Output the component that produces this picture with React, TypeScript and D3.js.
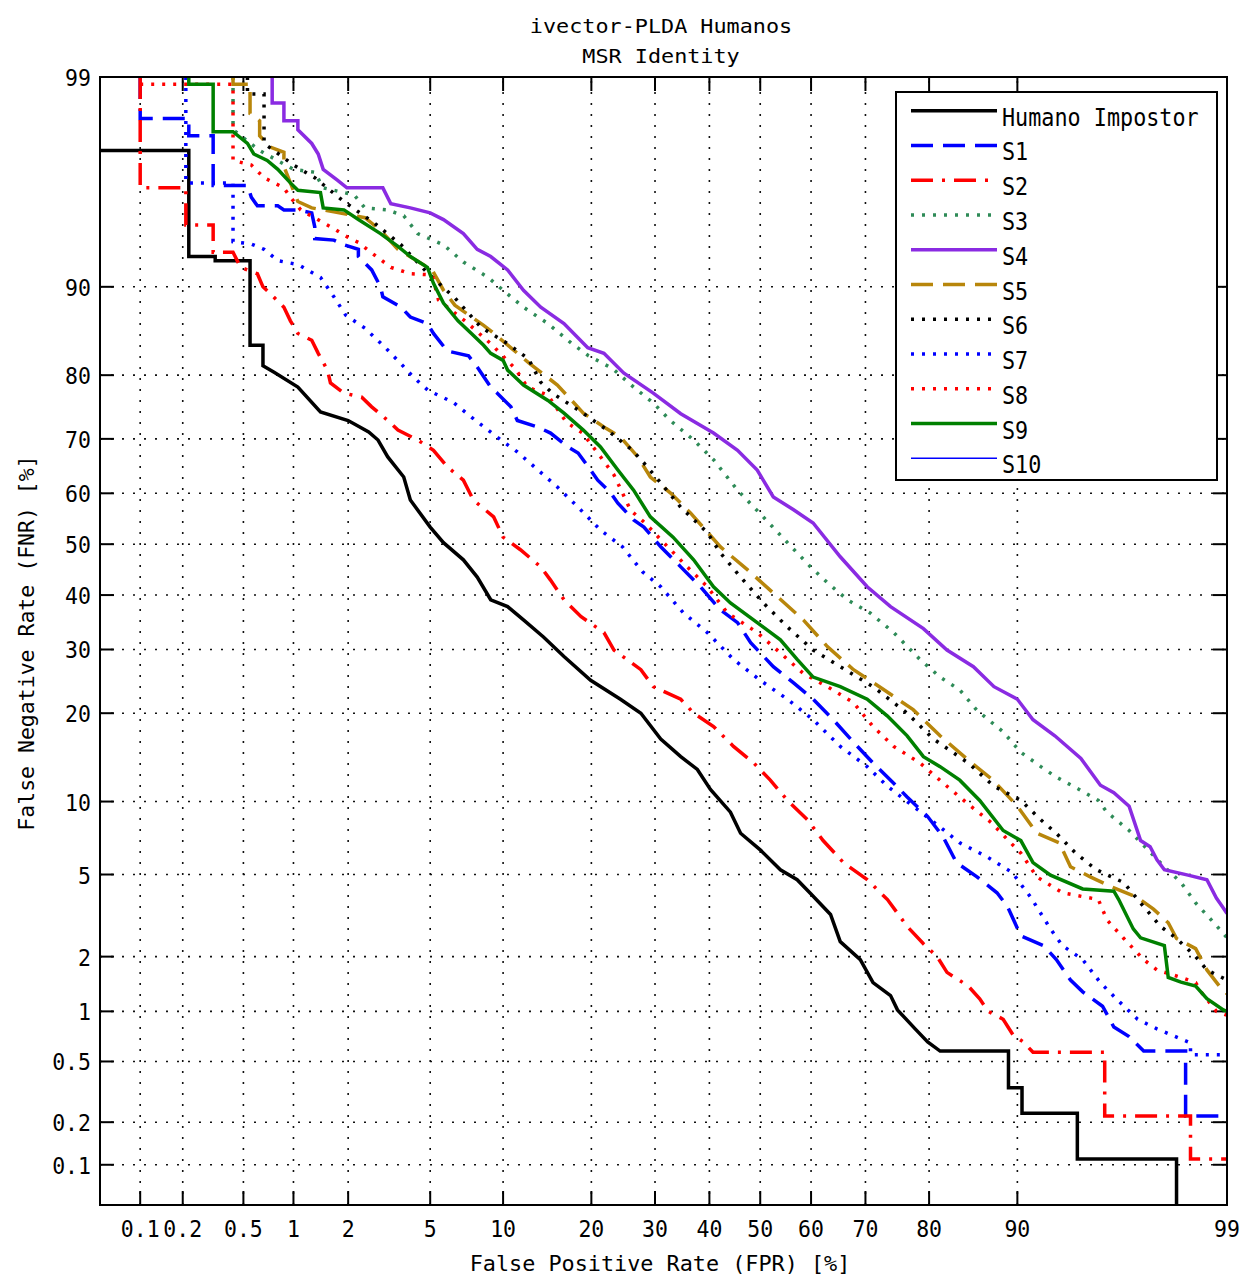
import React from 'react';
import * as d3 from 'd3';

type Pt = [number, number];

const xTicks = [0.1, 0.2, 0.5, 1, 2, 5, 10, 20, 30, 40, 50, 60, 70, 80, 90, 99];
const xTickLabels = ['0.1', '0.2', '0.5', '1', '2', '5', '10', '20', '30', '40', '50', '60', '70', '80', '90', '99'];
const yTicks = [0.1, 0.2, 0.5, 1, 2, 5, 10, 20, 30, 40, 50, 60, 70, 80, 90, 99];
const yTickLabels = ['0.1', '0.2', '0.5', '1', '2', '5', '10', '20', '30', '40', '50', '60', '70', '80', '90', '99'];
const axisMin = 0.05;
const axisMax = 99;

const titleLines = ['ivector-PLDA Humanos', 'MSR Identity'];
const xLabel = 'False Positive Rate (FPR) [%]';
const yLabel = 'False Negative Rate (FNR) [%]';

const seriesNames = ['Humano Impostor', 'S1', 'S2', 'S3', 'S4', 'S5', 'S6', 'S7', 'S8', 'S9', 'S10'];

const humano: Pt[] = [[0.05,97.5],[0.22,97.5],[0.22,92.4],[0.33,92.4],[0.33,92.1],[0.55,92.1],[0.55,83.9],[0.66,83.9],[0.66,81.3],[0.77,80.4],[1.06,78.3],[1.42,74.5],[2.0,73.1],[2.55,71.2],[2.84,69.8],[3.17,66.8],[3.78,63.1],[4.06,58.7],[5.0,53.4],[5.72,50.3],[6.95,46.9],[7.92,43.5],[8.96,39.1],[10.4,37.8],[11.9,35.3],[14.0,32.2],[16.4,28.8],[19.9,24.9],[24.3,22.0],[27.6,20.0],[31.0,16.6],[34.6,14.5],[37.7,13.1],[40.2,11.1],[44.1,9.1],[46.1,7.5],[50.0,6.4],[54.0,5.25],[57.3,4.74],[59.9,4.1],[63.7,3.26],[65.5,2.39],[69.1,1.93],[71.3,1.45],[74.2,1.23],[75.3,1.02],[78.0,0.79],[79.8,0.66],[81.5,0.58],[89.2,0.58],[89.2,0.34],[90.4,0.34],[90.4,0.23],[94.3,0.23],[94.3,0.11],[98.1,0.11],[98.1,0.05]];

const s1: Pt[] = [[0.1,99],[0.1,98.3],[0.22,98.3],[0.22,97.9],[0.32,97.9],[0.32,96.3],[0.53,96.3],[0.56,95.8],[0.61,95.4],[0.81,95.4],[0.88,95.2],[1.06,95.2],[1.27,95.05],[1.32,94.3],[1.32,93.6],[1.68,93.5],[1.9,93.2],[2.26,92.9],[2.26,92.4],[2.64,91.4],[2.92,90.0],[3.0,89.1],[3.67,88.1],[4.06,87.1],[4.86,86.4],[5.17,85.3],[5.94,83.2],[7.3,82.6],[7.92,81.1],[8.96,78.3],[9.5,77.4],[10.7,75.3],[11.3,73.1],[13.4,72.0],[14.8,71.0],[16.9,68.6],[18.2,67.5],[19.9,64.4],[20.9,62.5],[22.8,60.1],[23.9,58.1],[26.4,54.8],[28.1,53.4],[31.0,49.5],[34.6,45.5],[38.3,41.6],[42.1,37.2],[45.5,34.8],[48.1,31.2],[52.6,27.1],[56.6,24.5],[60.4,22.0],[64.2,19.1],[67.9,16.2],[71.3,13.8],[74.7,11.7],[76.8,10.4],[79.8,8.75],[81.9,7.25],[83.6,5.64],[86.0,4.88],[88.1,4.13],[89.1,3.57],[90.3,2.56],[92.1,2.28],[93.0,1.93],[93.9,1.5],[94.6,1.29],[95.6,1.07],[96.1,0.81],[96.7,0.71],[97.2,0.58],[98.3,0.58],[98.3,0.22],[99,0.22]];

const s2: Pt[] = [[0.1,99],[0.1,96.2],[0.21,96.2],[0.21,94.4],[0.32,94.4],[0.32,92.7],[0.43,92.7],[0.48,91.6],[0.61,91.1],[0.66,90.0],[0.73,89.4],[0.88,88.1],[0.96,86.7],[1.06,85.3],[1.27,84.5],[1.38,82.9],[1.55,80.7],[1.61,78.9],[1.9,77.4],[2.35,76.8],[2.64,75.3],[3.17,73.1],[3.55,71.5],[4.39,69.8],[5.17,68.0],[5.94,65.0],[6.95,62.5],[7.64,58.7],[9.2,55.4],[10.0,51.4],[11.6,48.9],[13.7,45.5],[14.8,42.9],[16.4,39.1],[18.6,35.9],[21.8,33.0],[23.3,29.9],[27.6,26.6],[29.7,23.9],[34.6,22.0],[37.0,20.0],[40.8,18.2],[44.7,15.7],[48.7,13.8],[52.0,12.0],[55.4,10.1],[59.3,8.5],[62.3,7.0],[66.1,5.64],[70.3,4.74],[73.7,3.84],[76.8,2.85],[79.2,2.33],[81.1,2.0],[82.4,1.65],[85.0,1.39],[86.3,1.18],[87.2,1.0],[88.7,0.9],[89.6,0.73],[90.5,0.66],[91.3,0.57],[95.7,0.57],[95.7,0.22],[98.4,0.22],[98.4,0.11],[99,0.11]];

const s3: Pt[] = [[0.43,99],[0.43,98.05],[0.63,97.5],[1.0,96.9],[1.32,96.8],[1.47,96.2],[2.15,95.9],[2.44,95.3],[3.17,95.2],[3.78,94.9],[4.39,93.9],[5.72,93.2],[6.95,92.0],[8.75,90.8],[10.0,89.7],[11.9,88.1],[14.5,86.4],[17.4,84.1],[19.6,82.6],[23.1,80.9],[26.4,78.3],[29.7,75.9],[32.7,73.1],[37.0,69.8],[40.8,66.3],[45.5,60.6],[50.6,55.4],[55.4,50.3],[59.9,45.5],[63.1,42.4],[66.8,39.1],[70.8,36.6],[74.7,33.0],[78.7,28.3],[81.5,25.4],[84.0,23.4],[86.0,20.4],[88.7,17.5],[90.3,15.0],[91.9,13.4],[93.0,12.3],[94.4,11.1],[95.4,10.1],[95.8,9.1],[96.7,7.7],[97.8,5.41],[98.2,4.6],[98.5,3.7],[98.8,3.0],[99,2.5]];

const s4: Pt[] = [[0.75,99],[0.75,98.6],[0.88,98.6],[0.88,98.25],[1.06,98.25],[1.06,98.05],[1.27,97.7],[1.38,97.4],[1.47,96.9],[1.76,96.5],[1.97,96.2],[3.0,96.2],[3.28,95.5],[4.06,95.3],[5.0,95.05],[5.72,94.7],[6.95,93.9],[7.92,92.9],[8.96,92.4],[10.4,91.4],[11.9,89.7],[13.7,88.1],[16.4,86.4],[19.5,83.6],[21.8,82.9],[24.8,80.3],[29.7,77.4],[34.6,74.2],[40.8,71.0],[45.5,68.0],[49.4,64.4],[52.6,59.3],[56.6,56.8],[60.4,54.2],[65.5,47.5],[70.3,41.6],[74.2,37.8],[79.2,33.7],[82.4,29.9],[85.6,27.1],[87.8,23.9],[90.0,22.0],[91.3,19.1],[92.9,17.0],[94.5,14.3],[95.5,11.5],[96.1,10.8],[96.7,9.6],[97.1,7.0],[97.4,6.6],[97.6,5.8],[97.8,5.25],[98.35,4.97],[98.7,4.74],[98.85,3.9],[98.95,3.5],[99,3.3]];

const s5: Pt[] = [[0.43,99],[0.43,98.9],[0.55,98.9],[0.55,98.4],[0.63,98.25],[0.63,97.9],[0.73,97.6],[0.88,97.45],[0.88,97.0],[1.06,95.6],[1.27,95.3],[1.68,95.1],[2.44,94.8],[2.92,94.1],[3.55,92.9],[5.1,91.4],[5.72,89.7],[6.4,88.3],[8.4,86.2],[8.96,85.6],[12.5,81.6],[15.6,78.6],[18.9,74.3],[22.1,71.8],[24.3,70.3],[27.1,66.8],[29.2,63.1],[32.7,60.1],[36.4,56.2],[42.1,49.5],[47.5,44.9],[52.6,40.4],[58.5,35.3],[63.1,30.5],[67.9,26.6],[73.0,23.5],[77.7,20.5],[81.5,17.0],[84.9,14.2],[87.7,12.0],[90.0,9.6],[91.6,7.5],[93.2,6.85],[93.9,5.41],[95.0,4.88],[96.0,4.4],[97.0,3.92],[97.5,3.46],[97.9,2.97],[98.1,2.48],[98.5,2.2],[98.7,1.7],[98.9,1.38],[99,1.26]];

const s6: Pt[] = [[0.53,99],[0.53,98.75],[0.67,98.75],[0.67,97.7],[0.77,97.5],[1.0,97.05],[1.32,96.6],[1.9,95.6],[2.73,94.5],[3.67,93.2],[4.9,91.1],[6.4,89.0],[8.2,86.0],[10.4,84.1],[12.4,82.2],[13.7,79.0],[15.0,77.4],[18.6,74.5],[22.3,71.5],[26.2,68.0],[28.1,65.7],[31.0,62.0],[34.6,57.3],[39.6,52.3],[42.1,48.3],[46.1,43.5],[50.6,38.5],[55.4,34.0],[60.4,29.9],[65.5,27.1],[71.3,23.9],[76.8,20.0],[80.6,16.6],[85.0,13.8],[87.8,11.4],[90.3,10.1],[91.9,8.5],[93.0,7.5],[94.2,6.2],[95.3,5.25],[96.5,4.6],[97.1,3.7],[97.7,2.85],[98.1,2.48],[98.5,2.0],[98.7,1.7],[99,1.5]];

const s7: Pt[] = [[0.21,99],[0.21,96.4],[0.43,96.4],[0.43,93.4],[0.56,93.25],[0.67,92.9],[0.81,92.1],[1.07,91.8],[1.42,90.8],[1.68,89.1],[1.94,87.3],[2.44,85.9],[3.09,83.6],[3.74,81.3],[4.2,79.7],[4.9,77.8],[6.3,76.0],[7.8,73.1],[9.5,70.3],[11.3,67.7],[13.4,64.4],[15.6,61.2],[18.2,57.3],[21.3,52.8],[24.6,49.5],[27.9,44.5],[31.0,41.6],[35.1,36.6],[39.6,33.0],[44.7,28.3],[50.0,24.9],[55.4,22.0],[60.4,19.1],[65.5,15.7],[70.3,13.4],[73.7,11.4],[77.7,9.6],[81.5,7.95],[84.0,6.85],[87.1,5.97],[89.6,5.08],[90.0,4.74],[91.1,3.95],[92.6,2.77],[93.4,2.28],[94.6,1.93],[95.5,1.45],[96.2,1.18],[97.0,0.9],[97.6,0.79],[98.4,0.65],[98.4,0.55],[99,0.55]];

const s8: Pt[] = [[0.1,98.9],[0.43,98.9],[0.43,97.2],[0.56,97.05],[0.67,96.6],[0.88,96.2],[0.96,95.8],[1.1,95.2],[1.61,94.3],[1.98,93.7],[2.26,93.35],[2.73,92.5],[3.28,91.6],[4.06,91.1],[5.1,91.0],[5.44,88.8],[7.2,86.5],[8.96,84.1],[11.1,80.9],[12.3,78.3],[14.5,77.1],[16.7,72.8],[18.8,71.0],[20.9,67.5],[23.3,63.5],[25.9,56.7],[28.3,54.2],[31.0,50.9],[35.8,45.5],[39.6,41.6],[43.5,36.6],[49.4,33.0],[54.0,29.4],[58.5,26.0],[63.1,23.9],[67.9,21.5],[71.3,18.2],[74.7,15.7],[78.7,13.8],[82.4,11.4],[85.3,9.6],[87.5,8.3],[89.4,6.85],[90.3,6.2],[91.6,4.88],[93.4,4.13],[95.4,3.84],[95.8,3.07],[96.5,2.48],[97.2,1.93],[97.6,1.7],[98.2,1.55],[98.5,1.45],[98.6,1.29],[98.85,1.0],[99,0.95]];

const s9: Pt[] = [[0.22,99],[0.22,98.9],[0.32,98.9],[0.32,98.0],[0.43,98.0],[0.53,97.7],[0.58,97.4],[0.7,97.2],[0.81,96.9],[0.96,96.4],[1.06,96.1],[1.42,96.0],[1.47,95.3],[1.9,95.2],[2.26,94.7],[2.92,93.9],[3.55,93.1],[4.06,92.4],[4.86,91.6],[5.17,90.3],[5.72,88.5],[6.6,86.7],[7.5,85.3],[8.4,83.9],[8.96,82.9],[10.0,82.0],[10.4,80.7],[11.9,78.6],[14.5,76.3],[16.4,74.3],[18.9,71.5],[21.3,68.6],[23.9,64.4],[26.4,60.6],[29.2,55.4],[33.2,51.4],[37.0,46.9],[40.8,41.6],[44.1,38.5],[49.4,34.8],[54.0,31.7],[57.3,28.3],[60.4,25.4],[65.5,23.9],[70.3,22.0],[73.7,19.6],[76.8,17.0],[79.2,14.5],[81.5,13.4],[84.0,12.0],[86.3,10.1],[88.7,7.7],[90.3,7.0],[91.3,5.64],[92.6,4.97],[94.6,4.3],[96.1,4.2],[96.3,3.84],[96.85,2.77],[97.1,2.5],[97.8,2.28],[97.9,1.55],[98.2,1.46],[98.5,1.39],[98.7,1.18],[98.95,1.02],[99,1.0]];

const s10: Pt[] = [];

const seriesData: Pt[][] = [humano, s1, s2, s3, s4, s5, s6, s7, s8, s9, s10];
const seriesColors = ['#000000', '#0000ff', '#ff0000', '#2e8b57', '#8a2be2', '#b8860b', '#000000', '#0000ff', '#ff0000', '#008000', '#0000ff'];
const seriesDash = ['', '22 10', '22 9 3 9', '3 8', '', '22 10', '3 8', '3 8', '3 8', '', ''];
const seriesWidth = [3.5, 3.5, 3.5, 3.5, 3.5, 3.5, 3.5, 3.5, 3.5, 3.5, 1.5];

// inverse standard normal CDF (Acklam)
function probit(p: number): number {
  const a = [-3.969683028665376e1, 2.209460984245205e2, -2.759285104469687e2, 1.38357751867269e2, -3.066479806614716e1, 2.506628277459239];
  const b = [-5.447609879822406e1, 1.615858368580409e2, -1.556989798598866e2, 6.680131188771972e1, -1.328068155288572e1];
  const c = [-7.784894002430293e-3, -3.223964580411365e-1, -2.400758277161838, -2.549732539343734, 4.374664141464968, 2.938163982698783];
  const d = [7.784695709041462e-3, 3.224671290700398e-1, 2.445134137142996, 3.754408661907416];
  const pl = 0.02425;
  if (p < pl) {
    const q = Math.sqrt(-2 * Math.log(p));
    return (((((c[0] * q + c[1]) * q + c[2]) * q + c[3]) * q + c[4]) * q + c[5]) / ((((d[0] * q + d[1]) * q + d[2]) * q + d[3]) * q + 1);
  }
  if (p <= 1 - pl) {
    const q = p - 0.5;
    const r = q * q;
    return ((((((a[0] * r + a[1]) * r + a[2]) * r + a[3]) * r + a[4]) * r + a[5]) * q) / (((((b[0] * r + b[1]) * r + b[2]) * r + b[3]) * r + b[4]) * r + 1);
  }
  const q = Math.sqrt(-2 * Math.log(1 - p));
  return -(((((c[0] * q + c[1]) * q + c[2]) * q + c[3]) * q + c[4]) * q + c[5]) / ((((d[0] * q + d[1]) * q + d[2]) * q + d[3]) * q + 1);
}

const W = 1241;
const H = 1278;
const L = 100, R = 1227, T = 77, B = 1205;
const FONT = '"DejaVu Sans Mono", "Liberation Mono", monospace';

export default function App() {
  const xs = d3.scaleLinear().domain([probit(axisMin / 100), probit(axisMax / 100)]).range([L, R]);
  const ys = d3.scaleLinear().domain([probit(axisMin / 100), probit(axisMax / 100)]).range([B, T]);
  const X = (v: number) => xs(probit(v / 100));
  const Y = (v: number) => ys(probit(v / 100));
  const line = d3.line<Pt>().x(d => X(d[0])).y(d => Y(d[1]));

  const legX = 896, legY = 92, legW = 321, legH = 388;
  const rowY = (i: number) => 110.7 + i * 34.76;

  return (
    <svg width={W} height={H} style={{ position: 'absolute', left: 0, top: 0, background: '#fff' }} fontFamily={FONT}>
      <rect x={0} y={0} width={W} height={H} fill="#fff" />
      <defs>
        <clipPath id="plotclip">
          <rect x={L} y={T} width={R - L} height={B - T} />
        </clipPath>
      </defs>
      {/* grid */}
      <g stroke="#111" strokeWidth={1.6} strokeDasharray="2 9">
        {xTicks.filter(t => t < axisMax).map((t, i) => (
          <line key={'gx' + i} x1={X(t)} x2={X(t)} y1={B} y2={T} />
        ))}
        {yTicks.filter(t => t < axisMax).map((t, i) => (
          <line key={'gy' + i} x1={L} x2={R} y1={Y(t)} y2={Y(t)} />
        ))}
      </g>
      {/* ticks */}
      <g stroke="#000" strokeWidth={2}>
        {xTicks.map((t, i) => (
          <g key={'tx' + i}>
            <line x1={X(t)} x2={X(t)} y1={B} y2={B - 14} />
            <line x1={X(t)} x2={X(t)} y1={T} y2={T + 14} />
          </g>
        ))}
        {yTicks.map((t, i) => (
          <g key={'ty' + i}>
            <line x1={L} x2={L + 14} y1={Y(t)} y2={Y(t)} />
            <line x1={R} x2={R - 14} y1={Y(t)} y2={Y(t)} />
          </g>
        ))}
      </g>
      {/* curves */}
      <g clipPath="url(#plotclip)" fill="none">
        {seriesData.map((data, i) =>
          data.length ? (
            <path
              key={'s' + i}
              d={line(data) || ''}
              stroke={seriesColors[i]}
              strokeWidth={seriesWidth[i]}
              strokeDasharray={seriesDash[i] || undefined}
              strokeLinejoin="miter"
              strokeLinecap="butt"
            />
          ) : null
        )}
      </g>
      {/* frame */}
      <rect x={L} y={T} width={R - L} height={B - T} fill="none" stroke="#000" strokeWidth={2} />
      {/* tick labels */}
      <g fontSize={21.5} fill="#000">
        {xTicks.map((t, i) => (
          <text key={'lx' + i} transform={`translate(${X(t)},1237) scale(1,1.1)`} textAnchor="middle">
            {xTickLabels[i]}
          </text>
        ))}
        {yTicks.map((t, i) => (
          <text key={'ly' + i} transform={`translate(91,${Y(t) + 9}) scale(1,1.1)`} textAnchor="end">
            {yTickLabels[i]}
          </text>
        ))}
      </g>
      {/* title */}
      <g fontSize={21.8} fill="#000" textAnchor="middle">
        {titleLines.map((s, i) => (
          <text key={'t' + i} transform={`translate(661,${33 + i * 30}) scale(1,0.92)`}>{s}</text>
        ))}
      </g>
      {/* axis labels */}
      <text transform="translate(660,1271)" fontSize={21.8} textAnchor="middle" fill="#000">{xLabel}</text>
      <text transform="translate(34,643) rotate(-90)" fontSize={21.5} textAnchor="middle" fill="#000">{yLabel}</text>
      {/* legend */}
      <rect x={legX} y={legY} width={legW} height={legH} fill="#fff" stroke="#000" strokeWidth={2} />
      {seriesNames.map((name, i) => (
        <g key={'lg' + i}>
          <line
            x1={911}
            x2={997}
            y1={rowY(i)}
            y2={rowY(i)}
            stroke={seriesColors[i]}
            strokeWidth={seriesWidth[i]}
            strokeDasharray={seriesDash[i] || undefined}
          />
          <text transform={`translate(1002,${rowY(i) + 15}) scale(1,1.12)`} fontSize={21.8} fill="#000">
            {name}
          </text>
        </g>
      ))}
    </svg>
  );
}
